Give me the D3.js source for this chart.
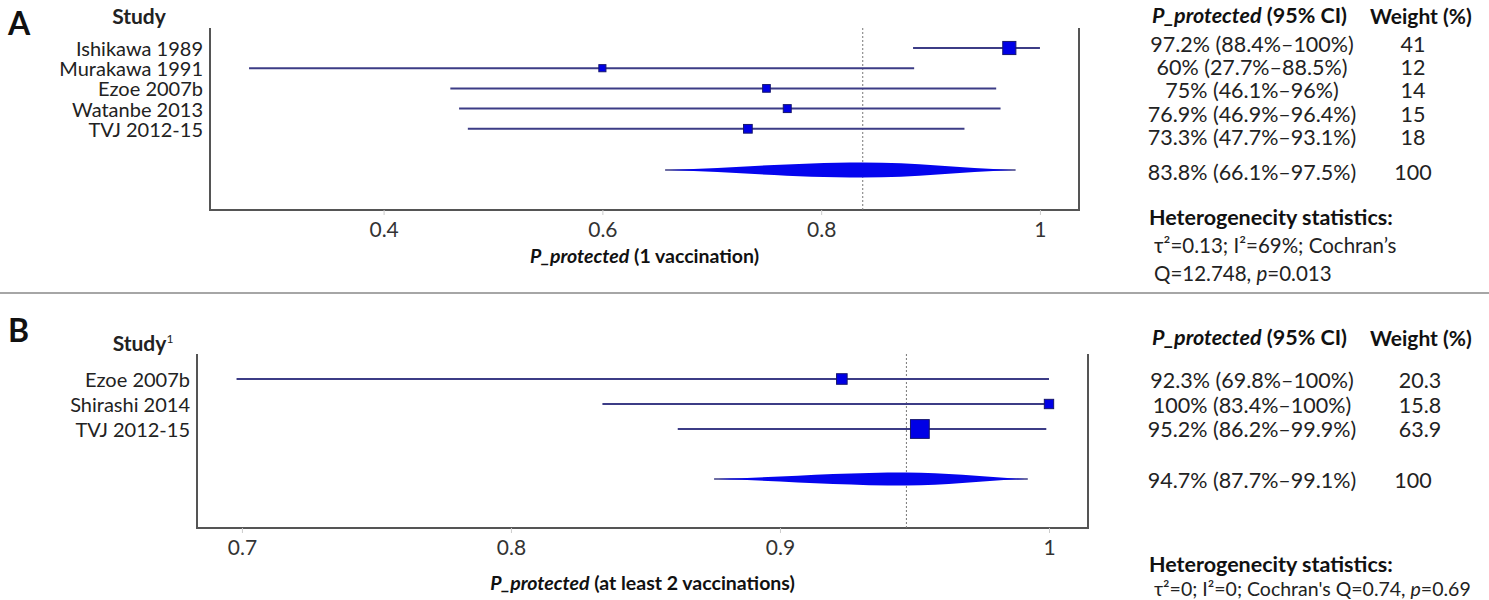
<!DOCTYPE html>
<html lang="en">
<head>
<meta charset="UTF-8">
<title>Forest plots: P_protected</title>
<script src="https://d3js.org/d3.v7.min.js"></script>
<style>
  body { margin: 0; background: #fff; }
  svg { font-family: Lato, "Open Sans", sans-serif; }
</style>
</head>
<body>
<div id="chart"></div>
<script>
// Panel A: one vaccination
const studiesA = ["Ishikawa 1989", "Murakawa 1991", "Ezoe 2007b", "Watanbe 2013", "TVJ 2012-15"];
const estA = [0.972, 0.60, 0.75, 0.769, 0.733];
const lowA = [0.884, 0.277, 0.461, 0.469, 0.477];
const highA = [1.0, 0.885, 0.96, 0.964, 0.931];
const weightA = [41, 12, 14, 15, 18];
const pooledA = [0.838, 0.661, 0.975];   // estimate, lower, upper
const ticksA = [0.4, 0.6, 0.8, 1];

// Panel B: at least two vaccinations
const studiesB = ["Ezoe 2007b", "Shirashi 2014", "TVJ 2012-15"];
const estB = [0.923, 1.0, 0.952];
const lowB = [0.698, 0.834, 0.862];
const highB = [1.0, 1.0, 0.999];
const weightB = [20.3, 15.8, 63.9];
const pooledB = [0.947, 0.877, 0.991];
const ticksB = [0.7, 0.8, 0.9, 1];

const W = 1489, H = 600;
const svg = d3.select("#chart").append("svg")
    .attr("width", W).attr("height", H);

const pct = v => `${+(v * 100).toFixed(1)}%`;
const ciText = (e, l, h) => `${pct(e)} (${pct(l)}\u2013${pct(h)})`;

function diamond(x0, xm, x1, y, h) {
    const a = h / 2;
    return `M${x0},${y}` +
        `C${x0 + (xm - x0) * 0.35},${y - a * 0.3} ${xm - (xm - x0) * 0.35},${y - a} ${xm},${y - a}` +
        `C${xm + (x1 - xm) * 0.35},${y - a} ${x1 - (x1 - xm) * 0.35},${y - a * 0.3} ${x1},${y}` +
        `C${x1 - (x1 - xm) * 0.35},${y + a * 0.3} ${xm + (x1 - xm) * 0.35},${y + a} ${xm},${y + a}` +
        `C${xm - (xm - x0) * 0.35},${y + a} ${x0 + (xm - x0) * 0.35},${y + a * 0.3} ${x0},${y}Z`;
}

function panel(c) {
    const g = svg.append("g");
    const x = d3.scaleLinear().domain(c.domain).range([c.left, c.right]);
    const rowY = i => c.rowTop + c.rowStep * i;
    const size = d3.scaleSqrt().domain([0, 100]).range([0, c.maxSquare]);

    // panel letter and study header
    g.append("text").attr("x", 8).attr("y", c.letterY)
        .attr("font-size", 32).attr("font-weight", 700).attr("fill", "#111").text(c.letter);
    const sh = g.append("text").attr("x", c.studyX).attr("y", c.studyHeadY)
        .attr("text-anchor", "middle").attr("font-size", 21).attr("font-weight", 700).attr("fill", "#222")
        .text("Study");
    if (c.studySup) sh.append("tspan").attr("font-size", 12).attr("dy", -8).attr("font-weight", 400).text(c.studySup);

    // study labels
    g.selectAll(".lab").data(c.studies).join("text")
        .attr("x", c.left - 7).attr("y", (d, i) => rowY(i))
        .attr("text-anchor", "end").attr("dominant-baseline", "central")
        .attr("font-size", 20).attr("fill", "#222").text(d => d);

    // axes frame: left, bottom, right
    g.append("path")
        .attr("d", `M${c.left},${c.top}V${c.bottom}H${c.right}V${c.top}`)
        .attr("fill", "none").attr("stroke", "#555").attr("stroke-width", 2);

    const axis = g.append("g").attr("transform", `translate(0,${c.bottom})`)
        .call(d3.axisBottom(x).tickValues(c.ticks).tickFormat(d3.format("")).tickSize(5).tickPadding(7));
    axis.select(".domain").remove();
    axis.selectAll(".tick line").attr("stroke", "#ccc");
    axis.selectAll(".tick text").attr("font-size", 21).attr("fill", "#333")
        .attr("font-family", "Lato, sans-serif");

    // axis title
    const t = g.append("text").attr("x", (c.left + c.right) / 2).attr("y", c.titleY)
        .attr("text-anchor", "middle").attr("font-size", 19.5).attr("font-weight", 700).attr("fill", "#111");
    t.append("tspan").attr("font-style", "italic").text("P_protected");
    t.append("tspan").text(" " + c.titleRest);

    // reference line at pooled estimate
    g.append("line").attr("x1", x(c.pooled[0])).attr("x2", x(c.pooled[0]))
        .attr("y1", c.top).attr("y2", c.bottom)
        .attr("stroke", "#777").attr("stroke-width", 1).attr("stroke-dasharray", "2,2");

    // confidence intervals
    g.selectAll(".ci").data(c.est).join("line")
        .attr("x1", (d, i) => x(c.low[i])).attr("x2", (d, i) => x(c.high[i]))
        .attr("y1", (d, i) => rowY(i)).attr("y2", (d, i) => rowY(i))
        .attr("stroke", "#3c3c86").attr("stroke-width", 2);

    // study squares
    g.selectAll(".sq").data(c.est).join("rect")
        .attr("x", (d, i) => x(d) - size(c.weight[i]) / 2)
        .attr("y", (d, i) => rowY(i) - size(c.weight[i]) / 2)
        .attr("width", (d, i) => size(c.weight[i]))
        .attr("height", (d, i) => size(c.weight[i]))
        .attr("fill", "#0000e6").attr("stroke", "#16166e").attr("stroke-width", 1);

    // pooled diamond
    g.append("line").attr("x1", x(c.pooled[1]) - 4).attr("x2", x(c.pooled[2]) + 3)
        .attr("y1", c.pooledY).attr("y2", c.pooledY).attr("stroke", "#3c3c86").attr("stroke-width", 1.5);
    g.append("path")
        .attr("d", diamond(x(c.pooled[1]), x(c.pooled[0]), x(c.pooled[2]), c.pooledY, c.diamondH))
        .attr("fill", "#0505ee");

    // right table
    const hd = g.append("text").attr("x", 1152).attr("y", c.headY)
        .attr("dominant-baseline", "central").attr("font-size", 21.5).attr("font-weight", 700).attr("fill", "#111");
    hd.append("tspan").attr("font-style", "italic").text("P_protected");
    hd.append("tspan").text(" (95% CI)");
    g.append("text").attr("x", 1370).attr("y", c.headY).attr("dominant-baseline", "central")
        .attr("font-size", 21).attr("font-weight", 700).attr("fill", "#111").text("Weight (%)");

    const tabY = i => c.tabTop + c.tabStep * i;
    g.selectAll(".ct").data(c.est).join("text")
        .attr("x", 1252).attr("y", (d, i) => tabY(i)).attr("text-anchor", "middle")
        .attr("dominant-baseline", "central").attr("font-size", 21.5).attr("fill", "#222")
        .text((d, i) => ciText(d, c.low[i], c.high[i]));
    g.selectAll(".wt").data(c.weight).join("text")
        .attr("x", c.weightX).attr("y", (d, i) => tabY(i)).attr("text-anchor", "middle")
        .attr("dominant-baseline", "central").attr("font-size", 21.5).attr("fill", "#222")
        .text(d => String(d));
    g.append("text").attr("x", 1252).attr("y", c.pooledTabY).attr("text-anchor", "middle")
        .attr("dominant-baseline", "central").attr("font-size", 21.5).attr("fill", "#222")
        .text(ciText(c.pooled[0], c.pooled[1], c.pooled[2]));
    g.append("text").attr("x", 1413).attr("y", c.pooledTabY).attr("text-anchor", "middle")
        .attr("dominant-baseline", "central").attr("font-size", 21.5).attr("fill", "#222").text("100");

    // heterogeneity
    g.append("text").attr("x", 1149).attr("y", c.hetY[0]).attr("dominant-baseline", "central")
        .attr("font-size", 21.5).attr("font-weight", 700).attr("fill", "#111").text("Heterogenecity statistics:");
    c.hetLines.forEach((parts, k) => {
        const tx = g.append("text").attr("x", 1154).attr("y", c.hetY[k + 1]).attr("dominant-baseline", "central")
            .attr("font-size", c.hetSize).attr("fill", "#222");
        parts.forEach(p => {
            const s = tx.append("tspan").text(p.t);
            if (p.i) s.attr("font-style", "italic");
        });
    });
}

panel({
    letter: "A", letterY: 35, studyX: 139, studyHeadY: 24,
    studies: studiesA, est: estA, low: lowA, high: highA, weight: weightA, pooled: pooledA, ticks: ticksA,
    domain: [0.2413, 1.0357], left: 210, right: 1079, top: 28, bottom: 210,
    rowTop: 48, rowStep: 20.2, pooledY: 170, maxSquare: 20.5, diamondH: 15,
    titleY: 263, titleRest: "(1 vaccination)",
    headY: 15, tabTop: 44, tabStep: 23.2, pooledTabY: 172, weightX: 1413,
    hetY: [217, 245, 273], hetSize: 20.5,
    hetLines: [[{t: "\u03c4\u00b2=0.13; I\u00b2=69%; Cochran\u2019s"}], [{t: "Q=12.748, "}, {t: "p", i: true}, {t: "=0.013"}]]
});

// separator between panels
svg.append("line").attr("x1", 0).attr("x2", W).attr("y1", 293).attr("y2", 293)
    .attr("stroke", "#888").attr("stroke-width", 1.5);

panel({
    letter: "B", letterY: 342, studyX: 143, studyHeadY: 351, studySup: "1",
    studies: studiesB, est: estB, low: lowB, high: highB, weight: weightB, pooled: pooledB, ticks: ticksB,
    domain: [0.6833, 1.0145], left: 197, right: 1088, top: 354, bottom: 528,
    rowTop: 379, rowStep: 25, pooledY: 479, maxSquare: 23.5, diamondH: 13,
    titleY: 590, titleRest: "(at least 2 vaccinations)",
    headY: 337, tabTop: 380, tabStep: 24.5, pooledTabY: 480, weightX: 1420,
    hetY: [564, 588], hetSize: 19.5,
    hetLines: [[{t: "\u03c4\u00b2=0; I\u00b2=0; Cochran's Q=0.74, "}, {t: "p", i: true}, {t: "=0.69"}]]
});
</script>
</body>
</html>
